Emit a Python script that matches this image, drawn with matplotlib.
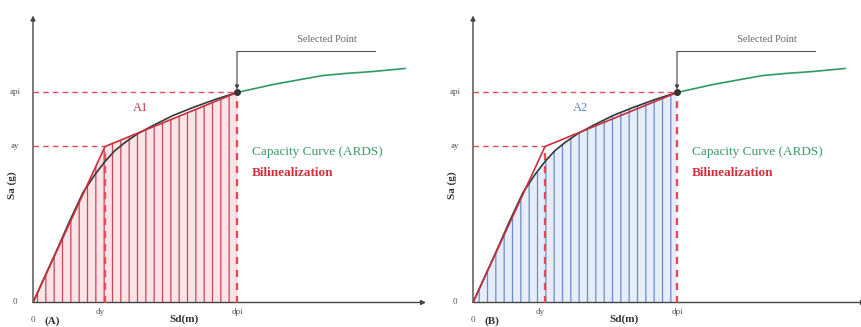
import matplotlib.pyplot as plt
import numpy as np

plt.rcParams['font.family'] = ['Liberation Serif', 'DejaVu Serif']
plt.rcParams['hatch.linewidth'] = 0.9

# capacity curve (ARDS), Sd in m, Sa in g
cap_sd = [0.0, 0.025, 0.036, 0.050, 0.062, 0.072, 0.082, 0.092, 0.105, 0.120, 0.140,
          0.160, 0.182, 0.204, 0.240, 0.262, 0.290, 0.312, 0.340, 0.372]
cap_sa = [0.0, 0.055, 0.080, 0.110, 0.128, 0.141, 0.152, 0.160, 0.169, 0.177, 0.187,
          0.195, 0.203, 0.210, 0.218, 0.222, 0.227, 0.229, 0.231, 0.234]

# bilinear idealisation: origin -> yield -> selected point
bil_sd = [0.0, 0.072, 0.204]
bil_sa = [0.0, 0.156, 0.210]
dy, ay = bil_sd[1], bil_sa[1]
dpi, api = bil_sd[2], bil_sa[2]

panels = [
    dict(x0=33, tag="(A)", area="A1", under="bilinear",
         line="#c24a58", face="#fbe3e7", tcol="#c8304a"),
    dict(x0=473, tag="(B)", area="A2", under="capacity",
         line="#6a8cca", face="#e6edf8", tcol="#5a80c0"),
]

W, H = 862, 327
fig = plt.figure(figsize=(W / 100, H / 100), dpi=100)

for p in panels:
    ax = fig.add_axes([p["x0"] / W, (H - 302.5) / H, 400 / W, 290 / H])
    ax.set_xlim(0, 0.40)
    ax.set_ylim(0, 0.29)
    ax.axis("off")

    # hatched area
    k = cap_sd.index(dpi) + 1
    if p["under"] == "bilinear":
        hx, hy = bil_sd, bil_sa
    else:
        hx, hy = cap_sd[:k], cap_sa[:k]
    ax.fill_between(hx, 0, hy, facecolor=p["face"], edgecolor=p["line"],
                    hatch="||", linewidth=0, zorder=1)

    # axes with arrows
    arr = dict(arrowstyle="-|>", color="#444", lw=1.0, mutation_scale=7,
               shrinkA=0, shrinkB=0)
    ax.annotate("", xy=(0.393, 0), xytext=(0, 0), annotation_clip=False, arrowprops=arr)
    ax.annotate("", xy=(0, 0.287), xytext=(0, 0), annotation_clip=False, arrowprops=arr)

    # reference dashed lines
    dk = dict(color="#e8485a", lw=1.0, dashes=(4, 3), zorder=3)
    ax.plot([0, dpi], [api, api], **dk)
    ax.plot([0, dy], [ay, ay], **dk)
    ax.plot([dpi, dpi], [0, api], color="#e8485a", lw=1.7, dashes=(3, 2.5), zorder=3)
    ax.plot([dy, dy], [0, ay], color="#e8485a", lw=1.7, dashes=(3, 2.5), zorder=3)

    # curves
    ax.plot(cap_sd[:k], cap_sa[:k], color="#2f3b3b", lw=1.2, zorder=4)
    ax.plot(cap_sd[k - 1:], cap_sa[k - 1:], color="#2e9a62", lw=1.2, zorder=4)
    ax.plot(bil_sd, bil_sa, color="#c8303c", lw=1.2, zorder=5)
    ax.plot([dpi], [api], "o", color="#333", ms=4, zorder=6)

    # selected point callout
    ax.plot([dpi, dpi + 0.138], [0.251, 0.251], color="#555", lw=0.8, clip_on=False)
    ax.annotate("", xy=(dpi, api + 0.003), xytext=(dpi, 0.251), annotation_clip=False,
                arrowprops=dict(arrowstyle="-|>", color="#444", lw=0.8,
                                mutation_scale=6, shrinkA=0, shrinkB=0))
    ax.text(dpi + 0.090, 0.258, "Selected Point", fontsize=7.5, color="#666",
            ha="center", va="bottom")

    # labels
    ax.text(0.108, 0.194, p["area"], fontsize=9, color=p["tcol"], ha="center", va="center")
    ax.text(0.219, 0.150, "Capacity Curve (ARDS)", fontsize=9.5, color="#3a9a68",
            ha="left", va="center")
    ax.text(0.219, 0.129, "Bilinealization", fontsize=9.5, color="#d0303c",
            fontweight="bold", ha="left", va="center")

    lab = dict(fontsize=6.5, color="#555", ha="center", va="center", clip_on=False)
    ax.text(-0.018, 0.0, "0", **lab)
    ax.text(-0.018, ay, "ay", **lab)
    ax.text(-0.018, api, "api", **lab)
    ax.text(0.0, -0.018, "0", **lab)
    ax.text(dy - 0.005, -0.009, "dy", **lab)
    ax.text(dpi, -0.009, "dpi", **lab)
    ax.text(0.019, -0.019, p["tag"], fontsize=8, fontweight="bold", color="#333",
            ha="center", va="center")
    ax.text(0.151, -0.017, "Sd(m)", fontsize=8, fontweight="bold", color="#333",
            ha="center", va="center")
    ax.text(-0.021, 0.117, "Sa (g)", fontsize=8, fontweight="bold", color="#333",
            ha="center", va="center", rotation=90)

fig.savefig("out.png", dpi=100)
